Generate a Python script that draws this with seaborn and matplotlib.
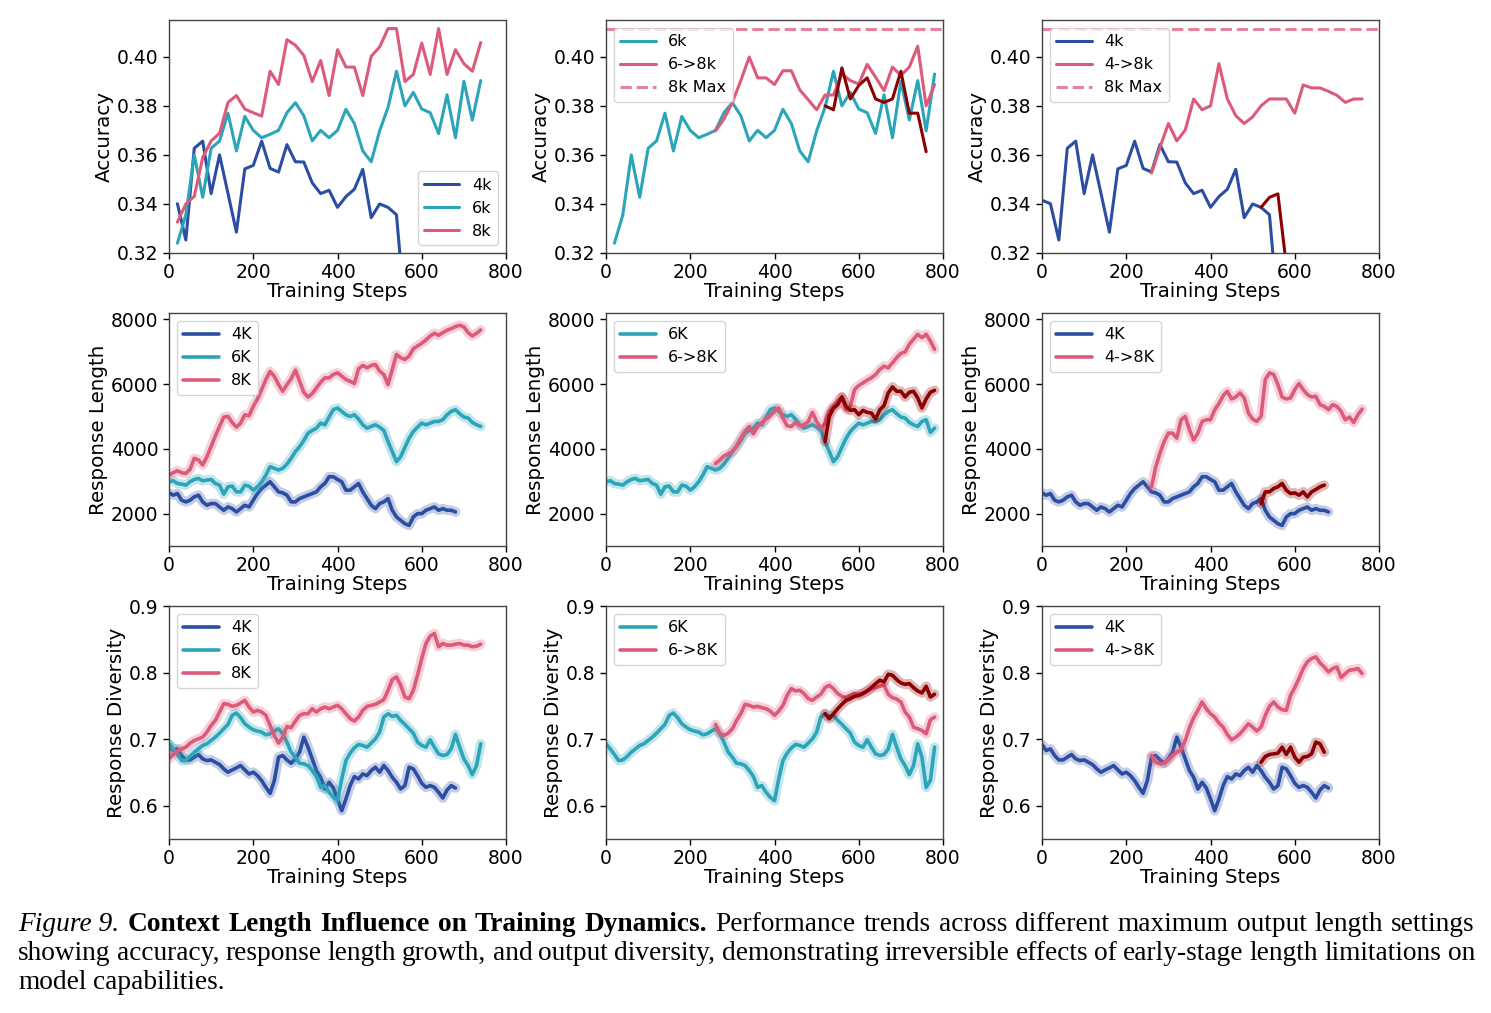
import numpy as np
import pandas as pd
import seaborn as sns
import matplotlib.pyplot as plt

# ---------------- data ----------------
# accuracy, evaluated every 20 steps starting at step 20
acc_steps = np.arange(20, 800, 20)
acc_4k = [0.3401, 0.3253, 0.3627, 0.3656, 0.3442, 0.3600, 0.3443, 0.3285, 0.3543, 0.3557,
          0.3656, 0.3545, 0.3530, 0.3642, 0.3572, 0.3571, 0.3486, 0.3442, 0.3456, 0.3386,
          0.3430, 0.3460, 0.3541, 0.3344, 0.3400, 0.3386, 0.3356, 0.2960]
acc_4k_step0 = 0.3415
acc_6k = [0.3240, 0.3356, 0.3600, 0.3427, 0.3627, 0.3657, 0.3770, 0.3616, 0.3757, 0.3700,
          0.3670, 0.3684, 0.3700, 0.3772, 0.3813, 0.3760, 0.3657, 0.3700, 0.3670, 0.3700,
          0.3786, 0.3728, 0.3616, 0.3572, 0.3698, 0.3794, 0.3941, 0.3800, 0.3855, 0.3787,
          0.3772, 0.3687, 0.3845, 0.3670, 0.3900, 0.3742, 0.3903, 0.3698, 0.3930]
acc_8k = [0.3326, 0.3400, 0.3431, 0.3589, 0.3657, 0.3688, 0.3814, 0.3842, 0.3787, 0.3772,
          0.3758, 0.3941, 0.3887, 0.4070, 0.4047, 0.4006, 0.3899, 0.3985, 0.3842, 0.4029,
          0.3958, 0.3958, 0.3842, 0.4002, 0.4040, 0.4115, 0.4115, 0.3899, 0.3928, 0.4056,
          0.3928, 0.4115, 0.3928, 0.4029, 0.3972, 0.3941, 0.4058]
acc_6to8k = [0.3698, 0.3746, 0.3814, 0.3903, 0.3999, 0.3914, 0.3914, 0.3887, 0.3943, 0.3943,
             0.3865, 0.3825, 0.3784, 0.3844, 0.3844, 0.3930, 0.3903, 0.3889, 0.3969, 0.3917,
             0.3862, 0.3958, 0.3924, 0.3958, 0.4043, 0.3800, 0.3887]          # from step 260
acc_6to8k_late = [0.3800, 0.3784, 0.3955, 0.3828, 0.3883, 0.3914, 0.3828, 0.3814, 0.3828,
                  0.3941, 0.3770, 0.3770, 0.3613]                              # from step 520
acc_4to8k = [0.3526, 0.3630, 0.3728, 0.3657, 0.3701, 0.3828, 0.3784, 0.3800, 0.3972, 0.3828,
             0.3760, 0.3728, 0.3755, 0.3800, 0.3828, 0.3828, 0.3828, 0.3770, 0.3885, 0.3873,
             0.3873, 0.3859, 0.3843, 0.3814, 0.3828, 0.3828]                  # from step 260
acc_4to8k_late = [0.3386, 0.3427, 0.3441, 0.3150, 0.2900]                     # from step 520
acc_8k_max = max(acc_8k)

# response length, smoothed, every 10 steps from step 0
len_4k = [2642, 2570, 2622, 2414, 2363, 2414, 2518, 2570, 2363, 2259, 2311, 2311, 2207, 2104,
          2207, 2155, 2052, 2155, 2259, 2207, 2414, 2622, 2777, 2881, 2984, 2829, 2673, 2642,
          2570, 2363, 2363, 2466, 2518, 2570, 2622, 2673, 2829, 2932, 3140, 3140, 3057, 2984,
          2725, 2725, 2829, 2932, 2673, 2466, 2259, 2155, 2311, 2363, 2466, 2104, 1896, 1793,
          1689, 1637, 1896, 2000, 2000, 2104, 2155, 2207, 2104, 2155, 2104, 2104, 2052]
len_6k = [2984, 3015, 2932, 2912, 2881, 2984, 3057, 3088, 3015, 3036, 3057, 2932, 2881, 2601,
          2829, 2850, 2673, 2673, 2881, 2850, 2725, 2829, 2984, 3191, 3450, 3399, 3347, 3399,
          3533, 3709, 3917, 4072, 4259, 4486, 4569, 4642, 4797, 4745, 4984, 5212, 5264, 5160,
          5056, 5004, 5056, 4922, 4745, 4642, 4694, 4745, 4673, 4569, 4227, 3917, 3606, 3761,
          4051, 4331, 4538, 4673, 4797, 4745, 4797, 4849, 4849, 4901, 5056, 5160, 5212, 5087,
          4984, 4953, 4818, 4745, 4694, 4849, 4901, 4507, 4642]
len_8k = [3191, 3264, 3326, 3264, 3243, 3368, 3709, 3658, 3502, 3761, 4072, 4404, 4694, 4984,
          5004, 4818, 4673, 4797, 5056, 5025, 5315, 5543, 5833, 6144, 6393, 6248, 5989, 5782,
          5989, 6165, 6434, 6092, 5750, 5605, 5709, 5885, 6061, 6196, 6196, 6299, 6351, 6248,
          6144, 6092, 6020, 6475, 6580, 6506, 6580, 6610, 6403, 6299, 5989, 6455, 6921, 6817,
          6765, 6869, 7097, 7180, 7263, 7366, 7490, 7573, 7511, 7594, 7667, 7719, 7781, 7823,
          7771, 7594, 7490, 7573, 7677]
len_6to8k = [3554, 3658, 3782, 3844, 3917, 4093, 4331, 4538, 4694, 4466, 4694, 4818, 4922,
             5025, 5160, 5264, 4953, 4714, 4694, 4818, 4714, 4745, 4849, 5129, 4849, 4642,
             4797, 5160, 5315, 5471, 5605, 5212, 5315, 5833, 5958, 6040, 6123, 6196, 6299,
             6455, 6558, 6506, 6662, 6817, 6952, 6994, 7232, 7387, 7542, 7439, 7542, 7335,
             7077]                                                             # from step 260
len_6to8k_late = [4227, 5004, 5264, 5367, 5605, 5315, 5191, 5212, 5056, 5191, 5129, 5108,
                  4922, 5212, 5336, 5730, 5916, 5781, 5781, 5605, 5750, 5781, 5574, 5264,
                  5543, 5750, 5812]                                            # from step 520
len_4to8k = [2829, 3450, 3865, 4227, 4486, 4486, 4331, 4901, 5004, 4590, 4279, 4486, 4849,
             4901, 4901, 5212, 5398, 5647, 5781, 5543, 5605, 5730, 5574, 5108, 4922, 4849,
             5004, 6144, 6351, 6299, 5989, 5605, 5543, 5574, 5833, 6020, 5833, 5678, 5605,
             5626, 5367, 5315, 5212, 5367, 5315, 5160, 4901, 4984, 4818, 5056, 5232]  # from 260
len_4to8k_late = [2311, 2673, 2673, 2777, 2829, 2932, 2725, 2622, 2642, 2570, 2673, 2518,
                  2673, 2746, 2829, 2881]                                      # from step 520

# response diversity, smoothed, every 10 steps from step 0
div_4k = [0.6920, 0.6829, 0.6854, 0.6754, 0.6688, 0.6688, 0.6729, 0.6769, 0.6704, 0.6678,
          0.6688, 0.6653, 0.6618, 0.6553, 0.6503, 0.6538, 0.6568, 0.6603, 0.6538, 0.6477,
          0.6503, 0.6452, 0.6377, 0.6276, 0.6186, 0.6377, 0.6729, 0.6754, 0.6688, 0.6638,
          0.6704, 0.6804, 0.7030, 0.6879, 0.6704, 0.6528, 0.6427, 0.6251, 0.6352, 0.6266,
          0.6101, 0.5925, 0.6101, 0.6302, 0.6437, 0.6402, 0.6477, 0.6452, 0.6528, 0.6578,
          0.6503, 0.6603, 0.6528, 0.6427, 0.6352, 0.6251, 0.6302, 0.6578, 0.6553, 0.6452,
          0.6337, 0.6276, 0.6302, 0.6276, 0.6201, 0.6116, 0.6236, 0.6302, 0.6266]
div_6k = [0.6930, 0.6854, 0.6769, 0.6678, 0.6688, 0.6739, 0.6804, 0.6854, 0.6905, 0.6930,
          0.6980, 0.7030, 0.7090, 0.7156, 0.7221, 0.7357, 0.7392, 0.7322, 0.7231, 0.7181,
          0.7141, 0.7121, 0.7106, 0.7065, 0.7080, 0.7121, 0.7156, 0.7080, 0.6955, 0.6804,
          0.6729, 0.6638, 0.6628, 0.6603, 0.6528, 0.6437, 0.6276, 0.6302, 0.6201, 0.6126,
          0.6075, 0.6402, 0.6678, 0.6789, 0.6869, 0.6920, 0.6905, 0.6879, 0.6940, 0.7005,
          0.7106, 0.7332, 0.7382, 0.7342, 0.7357, 0.7281, 0.7221, 0.7156, 0.7090, 0.6955,
          0.6905, 0.6879, 0.6990, 0.6879, 0.6779, 0.6754, 0.6769, 0.6854, 0.7070, 0.6879,
          0.6704, 0.6603, 0.6467, 0.6603, 0.6930, 0.6729, 0.6276, 0.6377, 0.6879]
div_8k = [0.6704, 0.6769, 0.6819, 0.6854, 0.6879, 0.6940, 0.6980, 0.7005, 0.7030, 0.7106,
          0.7206, 0.7281, 0.7407, 0.7533, 0.7523, 0.7492, 0.7508, 0.7543, 0.7583, 0.7482,
          0.7407, 0.7432, 0.7407, 0.7357, 0.7206, 0.7055, 0.6940, 0.7030, 0.7191, 0.7171,
          0.7271, 0.7357, 0.7382, 0.7382, 0.7457, 0.7407, 0.7457, 0.7482, 0.7457, 0.7482,
          0.7508, 0.7457, 0.7382, 0.7307, 0.7271, 0.7332, 0.7432, 0.7492, 0.7508, 0.7523,
          0.7558, 0.7593, 0.7734, 0.7894, 0.7935, 0.7809, 0.7633, 0.7608, 0.7734, 0.7960,
          0.8211, 0.8437, 0.8548, 0.8588, 0.8387, 0.8437, 0.8412, 0.8412, 0.8427, 0.8437,
          0.8412, 0.8412, 0.8387, 0.8397, 0.8427]
div_6to8k = [0.7221, 0.7090, 0.7055, 0.7090, 0.7156, 0.7281, 0.7382, 0.7523, 0.7508, 0.7482,
             0.7492, 0.7472, 0.7457, 0.7422, 0.7357, 0.7422, 0.7508, 0.7658, 0.7759, 0.7724,
             0.7734, 0.7684, 0.7608, 0.7583, 0.7633, 0.7674, 0.7774, 0.7809, 0.7759, 0.7684,
             0.7643, 0.7623, 0.7658, 0.7684, 0.7674, 0.7694, 0.7724, 0.7759, 0.7774, 0.7794,
             0.7809, 0.7674, 0.7623, 0.7603, 0.7558, 0.7407, 0.7332, 0.7181, 0.7156, 0.7131,
             0.7080, 0.7291, 0.7332]                                           # from step 260
div_6to8k_late = [0.7382, 0.7307, 0.7382, 0.7457, 0.7523, 0.7583, 0.7608, 0.7643, 0.7658,
                  0.7684, 0.7724, 0.7774, 0.7834, 0.7885, 0.7859, 0.7975, 0.7960, 0.7894,
                  0.7844, 0.7824, 0.7834, 0.7774, 0.7724, 0.7694, 0.7794, 0.7633, 0.7674]
div_4to8k = [0.6754, 0.6653, 0.6628, 0.6638, 0.6688, 0.6754, 0.6804, 0.6839, 0.6980, 0.7171,
             0.7322, 0.7432, 0.7558, 0.7457, 0.7382, 0.7332, 0.7241, 0.7181, 0.7070, 0.6990,
             0.7030, 0.7080, 0.7156, 0.7231, 0.7181, 0.7121, 0.7181, 0.7357, 0.7492, 0.7558,
             0.7482, 0.7442, 0.7432, 0.7658, 0.7774, 0.7910, 0.8060, 0.8161, 0.8211, 0.8236,
             0.8146, 0.8085, 0.8010, 0.8060, 0.8085, 0.7925, 0.7985, 0.8035, 0.8045, 0.8060,
             0.7985]                                                           # from step 260
div_4to8k_late = [0.6653, 0.6739, 0.6769, 0.6779, 0.6789, 0.6879, 0.6769, 0.6879, 0.6729,
                  0.6653, 0.6729, 0.6739, 0.6779, 0.6955, 0.6930, 0.6804]      # from step 520

BLUE = "#2b4ea2"
TEAL = "#2ca4b9"
PINK = "#dc5b7a"
DARK = "#8b0000"

W, H = 1491, 1013
sns.set_theme(style="ticks")
plt.rcParams["font.family"] = ["DejaVu Sans"]
plt.rcParams["axes.edgecolor"] = "#444444"
plt.rcParams["axes.linewidth"] = 1.0
plt.rcParams["text.color"] = "black"
plt.rcParams["axes.labelcolor"] = "black"

fig = plt.figure(figsize=(W / 100, H / 100), dpi=100)

col_left = [169, 606, 1042]
row_top = [20, 313, 606]
ax_w, ax_h = 337, 233
axes = [[fig.add_axes([l / W, 1 - (t + ax_h) / H, ax_w / W, ax_h / H]) for l in col_left]
        for t in row_top]


def acc_line(ax, steps, vals, color, label=None):
    df = pd.DataFrame({"step": steps, "v": vals})
    sns.lineplot(data=df, x="step", y="v", ax=ax, color=color, lw=2.2, label=label,
                 estimator=None, legend=False)


def smooth_line(ax, start, vals, color, label=None):
    steps = start + 10 * np.arange(len(vals))
    df = pd.DataFrame({"step": steps, "v": vals})
    sns.lineplot(data=df, x="step", y="v", ax=ax, color=color, lw=7, alpha=0.28,
                 estimator=None, legend=False)
    sns.lineplot(data=df, x="step", y="v", ax=ax, color=color, lw=2.6, label=label,
                 estimator=None, legend=False)


# ---- row 1: accuracy ----
ax = axes[0][0]
acc_line(ax, acc_steps[:len(acc_4k)], acc_4k, BLUE, "4k")
acc_line(ax, acc_steps[:len(acc_6k) - 2], acc_6k[:-2], TEAL, "6k")
acc_line(ax, acc_steps[:len(acc_8k)], acc_8k, PINK, "8k")
ax.legend(loc="lower right", fontsize=11.5, handlelength=2.2)

ax = axes[0][1]
acc_line(ax, acc_steps[:len(acc_6k)], acc_6k, TEAL, "6k")
acc_line(ax, 260 + 20 * np.arange(len(acc_6to8k)), acc_6to8k, PINK, "6->8k")
acc_line(ax, 520 + 20 * np.arange(len(acc_6to8k_late)), acc_6to8k_late, DARK)
ax.axhline(acc_8k_max, color=PINK, ls="--", lw=2.2, alpha=0.75, label="8k Max")
ax.legend(loc="upper left", fontsize=11.5, handlelength=2.2)

ax = axes[0][2]
acc_line(ax, np.r_[0, acc_steps[:len(acc_4k)]], [acc_4k_step0] + acc_4k, BLUE, "4k")
acc_line(ax, 260 + 20 * np.arange(len(acc_4to8k)), acc_4to8k, PINK, "4->8k")
acc_line(ax, 520 + 20 * np.arange(len(acc_4to8k_late)), acc_4to8k_late, DARK)
ax.axhline(acc_8k_max, color=PINK, ls="--", lw=2.2, alpha=0.75, label="8k Max")
ax.legend(loc="upper left", fontsize=11.5, handlelength=2.2)

for ax in axes[0]:
    ax.set_ylim(0.32, 0.415)
    ax.set_yticks([0.32, 0.34, 0.36, 0.38, 0.40])
    ax.set_yticklabels(["0.32", "0.34", "0.36", "0.38", "0.40"])

# ---- row 2: response length ----
ax = axes[1][0]
smooth_line(ax, 0, len_4k, BLUE, "4K")
smooth_line(ax, 0, len_6k[:75], TEAL, "6K")
smooth_line(ax, 0, len_8k, PINK, "8K")
ax = axes[1][1]
smooth_line(ax, 0, len_6k, TEAL, "6K")
smooth_line(ax, 260, len_6to8k, PINK, "6->8K")
smooth_line(ax, 520, len_6to8k_late, DARK)
ax = axes[1][2]
smooth_line(ax, 0, len_4k, BLUE, "4K")
smooth_line(ax, 260, len_4to8k, PINK, "4->8K")
smooth_line(ax, 520, len_4to8k_late, DARK)
for ax in axes[1]:
    ax.set_ylim(1000, 8200)
    ax.set_yticks([2000, 4000, 6000, 8000])

# ---- row 3: response diversity ----
ax = axes[2][0]
smooth_line(ax, 0, div_4k, BLUE, "4K")
smooth_line(ax, 0, div_6k[:75], TEAL, "6K")
smooth_line(ax, 0, div_8k, PINK, "8K")
ax = axes[2][1]
smooth_line(ax, 0, div_6k, TEAL, "6K")
smooth_line(ax, 260, div_6to8k, PINK, "6->8K")
smooth_line(ax, 520, div_6to8k_late, DARK)
ax = axes[2][2]
smooth_line(ax, 0, div_4k, BLUE, "4K")
smooth_line(ax, 260, div_4to8k, PINK, "4->8K")
smooth_line(ax, 520, div_4to8k_late, DARK)
for ax in axes[2]:
    ax.set_ylim(0.55, 0.9)
    ax.set_yticks([0.6, 0.7, 0.8, 0.9])

for ax in axes[1] + axes[2]:
    ax.legend(loc="upper left", fontsize=11.5, handlelength=2.2)

ylabels = ["Accuracy", "Response Length", "Response Diversity"]
for r in range(3):
    for c in range(3):
        ax = axes[r][c]
        ax.set_xlim(0, 800)
        ax.set_xticks([0, 200, 400, 600, 800])
        ax.tick_params(labelsize=13.5, length=4, width=1, colors="black")
        ax.set_xlabel("Training Steps", fontsize=14.3, labelpad=0)
        ax.set_ylabel(ylabels[r], fontsize=14.3, labelpad=2)

# ---- caption (justified) ----
serif = "Liberation Serif"
left_px, right_px = 18, 1475
lines = [
    [("Figure 9.", "italic", "normal")]
    + [(w, "normal", "bold") for w in "Context Length Influence on Training Dynamics.".split()]
    + [(w, "normal", "normal") for w in
       "Performance trends across different maximum output length settings".split()],
    [(w, "normal", "normal") for w in
     ("showing accuracy, response length growth, and output diversity, demonstrating "
      "irreversible effects of early-stage length limitations on").split()],
    [(w, "normal", "normal") for w in "model capabilities.".split()],
]
line_y = [924, 953, 982]
fig.canvas.draw()
renderer = fig.canvas.get_renderer()


def natural_width(words, size):
    tmp = [fig.text(0, 0, w, fontsize=size, family=serif, style=st, weight=wt)
           for w, st, wt in words]
    sp = fig.text(0, 0, "a a", fontsize=size, family=serif)
    sp2 = fig.text(0, 0, "aa", fontsize=size, family=serif)
    space = sp.get_window_extent(renderer).width - sp2.get_window_extent(renderer).width
    total = sum(t.get_window_extent(renderer).width for t in tmp) + 0.8 * space * (len(tmp) - 1)
    for t in tmp + [sp, sp2]:
        t.remove()
    return total


cap_size = 20.5
while max(natural_width(l, cap_size) for l in lines[:2]) > right_px - left_px:
    cap_size -= 0.25

for li, words in enumerate(lines):
    texts = []
    for w, st, wt in words:
        t = fig.text(0, 1 - line_y[li] / H, w, fontsize=cap_size, family=serif, style=st,
                     weight=wt, va="center", ha="left")
        texts.append(t)
    widths = [t.get_window_extent(renderer).width for t in texts]
    if li < len(lines) - 1:
        gap = (right_px - left_px - sum(widths)) / (len(texts) - 1)
    else:
        sp = fig.text(0, 0, "a a", fontsize=cap_size, family=serif)
        sp2 = fig.text(0, 0, "aa", fontsize=cap_size, family=serif)
        gap = sp.get_window_extent(renderer).width - sp2.get_window_extent(renderer).width
        sp.remove()
        sp2.remove()
    x = left_px
    for t, wd in zip(texts, widths):
        t.set_x(x / W)
        x += wd + gap

fig.savefig("out.png", dpi=100)
